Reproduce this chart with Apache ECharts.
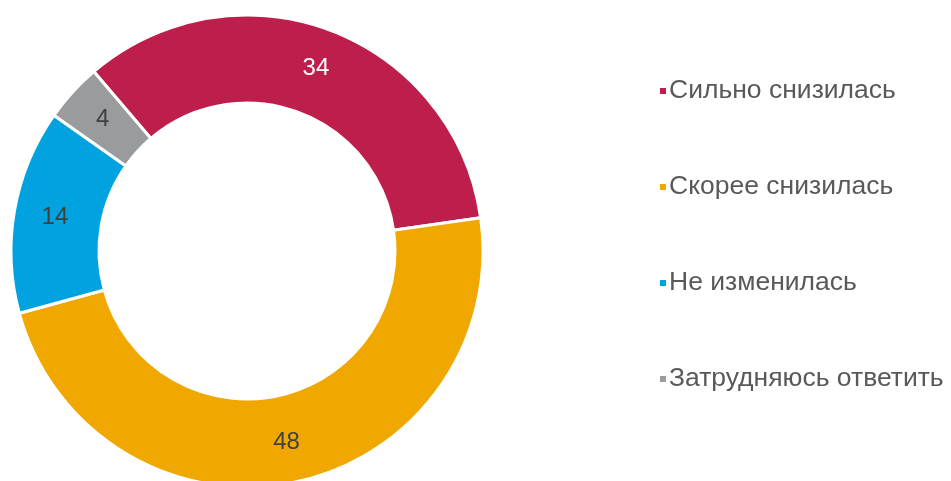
<!DOCTYPE html>
<html>
<head>
<meta charset="utf-8">
<script src="https://cdn.jsdelivr.net/npm/echarts@6/dist/echarts.min.js"></script>
<style>
  html, body { margin: 0; padding: 0; background: #fff; }
  #chart { width: 951px; height: 481px; }
</style>
</head>
<body>
<div id="chart"></div>
<script>
const categories = ['Сильно снизилась', 'Скорее снизилась', 'Не изменилась', 'Затрудняюсь ответить']
const values = [34, 48, 14, 4]
const colors = ['#BE1E4B', '#F0A800', '#00A3DF', '#9A9B9D']
const labelColors = ['#ffffff', '#404040', '#404040', '#404040']

const chart = echarts.init(document.getElementById('chart'))

chart.setOption({
  animation: false,
  legend: {
    orient: 'vertical',
    left: 653,
    top: 72,
    itemWidth: 8,
    itemHeight: 8,
    itemGap: 68,
    icon: 'rect',
    textStyle: {
      fontFamily: 'Liberation Sans, Arial, sans-serif',
      fontSize: 26.5,
      lineHeight: 28,
      color: '#595959',
      padding: [0, 0, 0, -3]
    },
    data: categories
  },
  series: [
    {
      type: 'pie',
      center: [247, 251],
      radius: [148, 236],
      startAngle: 130.5,
      clockwise: true,
      avoidLabelOverlap: false,
      itemStyle: {
        borderColor: '#fff',
        borderWidth: 3
      },
      label: {
        show: true,
        position: 'inside',
        fontFamily: 'Liberation Sans, Arial, sans-serif',
        fontSize: 24,
        formatter: '{c}'
      },
      labelLine: { show: false },
      data: categories.map((name, i) => ({
        name: name,
        value: values[i],
        itemStyle: { color: colors[i] },
        label: { color: labelColors[i] }
      }))
    }
  ]
})
</script>
</body>
</html>
